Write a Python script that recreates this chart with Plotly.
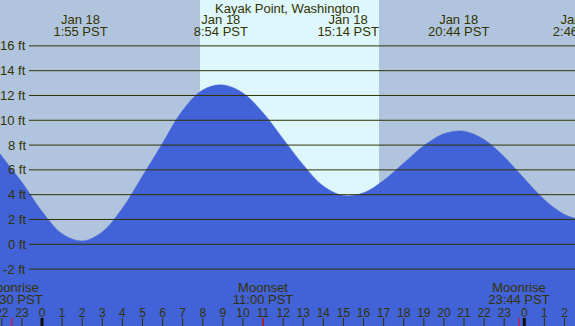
import plotly.graph_objects as go

# ---------------- data ----------------
title = "Kayak Point, Washington"

# tide curve (hours from Jan 18 00:00 PST, feet)
tide_hours = [-2.09, -2, -1, 0, 1, 2, 3, 4, 5, 6, 7, 8, 9, 10, 11, 12, 13, 14,
              15, 16, 17, 18, 19, 20, 21, 22, 23, 24, 25, 26, 26.52]
tide_feet = [7.3, 7.1, 5.0, 2.65, 0.85, 0.27, 1.0, 2.9, 5.5, 8.15, 10.8, 12.45, 12.85, 12.2,
             10.6, 8.5, 6.4, 4.7, 3.93, 4.15, 5.15, 6.55, 7.95, 8.92, 9.12, 8.45, 7.05, 5.3,
             3.6, 2.4, 2.1]

# high / low tide events
event_hours = [1.917, 8.9, 15.233, 20.733, 26.767]
event_dates = ["Jan 18", "Jan 18", "Jan 18", "Jan 18", "Jan 19"]
event_times = ["1:55 PST", "8:54 PST", "15:14 PST", "20:44 PST", "2:46 PST"]

# daylight
sunrise_hour = 7.86
sunset_hour = 16.77

# moon events
moon_hours = [-1.5, 11.0, 23.733]
moon_names = ["Moonrise", "Moonset", "Moonrise"]
moon_times = ["22:30 PST", "11:00 PST", "23:44 PST"]

# axis ticks
ytick_vals = [-2, 0, 2, 4, 6, 8, 10, 12, 14, 16]
ytick_text = ["-2 ft", "0 ft", "2 ft", "4 ft", "6 ft", "8 ft", "10 ft", "12 ft", "14 ft", "16 ft"]
hour_ticks = list(range(-2, 27))
hour_labels = [str(h % 24) for h in hour_ticks]
midnight_ticks = [0, 24]

# ---------------- layout helpers ----------------
W, H = 575, 326
X_RANGE = [-2.09, 26.523]
Y_RANGE = [-6.59, 19.70]
FONT = "Liberation Sans, Arial, sans-serif"
TXT = "#333300"
NIGHT = "#B0C4DE"
DAY = "#DDF7FD"
FILL = "#4262D7"


def ypix(p):
    """pixel row -> data value"""
    return Y_RANGE[1] - p * (Y_RANGE[1] - Y_RANGE[0]) / H


fig = go.Figure()

# baseline for fill
fig.add_trace(go.Scatter(x=[X_RANGE[0] - 1, X_RANGE[1] + 1], y=[Y_RANGE[0] - 1, Y_RANGE[0] - 1],
                         mode="lines", line=dict(width=0), hoverinfo="skip", showlegend=False))
fig.add_trace(go.Scatter(x=tide_hours, y=tide_feet, mode="lines",
                         line=dict(width=0.5, color=FILL, shape="spline", smoothing=1.0),
                         fill="tonexty", fillcolor=FILL, hoverinfo="skip", showlegend=False))


def text_trace(xs, pix, texts, size=13):
    return go.Scatter(x=xs, y=[ypix(pix)] * len(xs), mode="text", text=texts,
                      textposition="middle center", textfont=dict(family=FONT, size=size, color=TXT),
                      cliponaxis=True, hoverinfo="skip", showlegend=False)


# top event labels
fig.add_trace(text_trace(event_hours, 21.0, event_dates))
fig.add_trace(text_trace(event_hours, 32.8, event_times))
# moon labels
fig.add_trace(text_trace(moon_hours, 289.0, moon_names))
fig.add_trace(text_trace(moon_hours, 301.0, moon_times))
# hour labels
fig.add_trace(text_trace(hour_ticks, 313.8, hour_labels, size=12))

shapes = []
# daylight band
shapes.append(dict(type="rect", xref="x", yref="paper", x0=sunrise_hour, x1=sunset_hour, y0=0, y1=1,
                   fillcolor=DAY, line=dict(width=0), layer="below"))
# gridlines
for v in ytick_vals:
    shapes.append(dict(type="line", xref="paper", yref="y", x0=29 / W, x1=1, y0=v, y1=v,
                       line=dict(color=TXT, width=1), layer="above"))
# hour ticks
for h in hour_ticks:
    if h in midnight_ticks:
        continue
    shapes.append(dict(type="line", xref="x", yref="paper", x0=h, x1=h, y0=0, y1=8 / H,
                       line=dict(color=TXT, width=1), layer="above"))
for h in midnight_ticks:
    shapes.append(dict(type="line", xref="x", yref="paper", x0=h, x1=h, y0=0, y1=8 / H,
                       line=dict(color="#111100", width=3), layer="above"))
for h in moon_hours:
    shapes.append(dict(type="line", xref="x", yref="paper", x0=h, x1=h, y0=0, y1=8 / H,
                       line=dict(color="#FF0000", width=1), layer="above"))

annotations = [dict(text=title, xref="paper", yref="paper", x=0.5, y=1 - 8.5 / H, showarrow=False,
                    xanchor="center", yanchor="middle", font=dict(family=FONT, size=13, color=TXT))]
for v, t in zip(ytick_vals, ytick_text):
    annotations.append(dict(text=t, xref="paper", yref="y", x=27.5 / W, y=v, showarrow=False,
                            xanchor="right", yanchor="middle", font=dict(family=FONT, size=13, color=TXT)))

fig.update_layout(
    width=W, height=H, margin=dict(l=0, r=0, t=0, b=0),
    paper_bgcolor=NIGHT, plot_bgcolor=NIGHT,
    xaxis=dict(range=X_RANGE, visible=False, fixedrange=True),
    yaxis=dict(range=Y_RANGE, visible=False, fixedrange=True),
    shapes=shapes, annotations=annotations, showlegend=False,
)

fig.write_html("out.html", config={"displayModeBar": False},
               post_script="document.body.style.margin='0';document.body.style.overflow='hidden';")
